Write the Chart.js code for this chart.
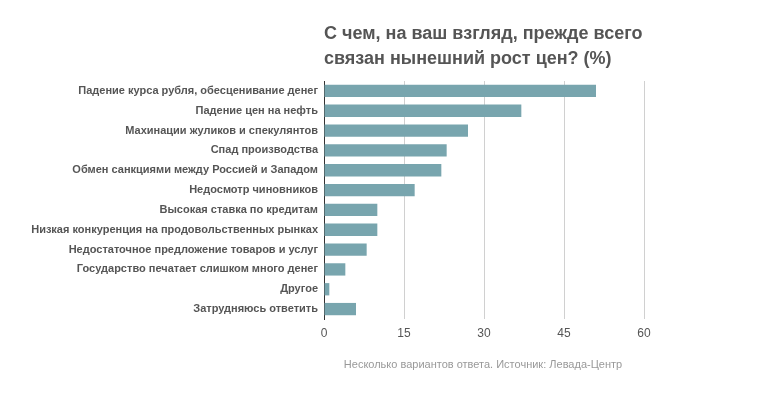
<!DOCTYPE html>
<html>
<head>
<meta charset="utf-8">
<script src="https://cdn.jsdelivr.net/npm/chart.js@4"></script>
<style>
  body { margin: 0; background: #fff; font-family: Arial, "Liberation Sans", sans-serif; }
  #wrap { position: relative; width: 776px; height: 398px; }
  #title { position: absolute; left: 324px; top: 21px; font-size: 18px; font-weight: bold; color: #555; line-height: 25px; }
  #note { position: absolute; left: 0; width: 966px; top: 358px; text-align: center; font-size: 11px; color: #999; }
  canvas { position: absolute; left: 0; top: 0; }
</style>
</head>
<body>
<div id="wrap">
  <canvas id="c" width="776" height="398"></canvas>
  <div id="title">С чем, на ваш взгляд, прежде всего<br>связан нынешний рост цен? (%)</div>
  <div id="note">Несколько вариантов ответа. Источник: Левада-Центр</div>
</div>
<script>
// categories and values (%)
const labels = [
  "Падение курса рубля, обесценивание денег",
  "Падение цен на нефть",
  "Махинации жуликов и спекулянтов",
  "Спад производства",
  "Обмен санкциями между Россией и Западом",
  "Недосмотр чиновников",
  "Высокая ставка по кредитам",
  "Низкая конкуренция на продовольственных рынках",
  "Недостаточное предложение товаров и услуг",
  "Государство печатает слишком много денег",
  "Другое",
  "Затрудняюсь ответить"
];
const values = [51, 37, 27, 23, 22, 17, 10, 10, 8, 4, 1, 6];
const xTicks = [0, 15, 30, 45, 60];

new Chart(document.getElementById('c'), {
  type: 'bar',
  data: {
    labels: labels,
    datasets: [{ data: values, backgroundColor: '#78a5ae', categoryPercentage: 1, barPercentage: 0.62 }]
  },
  options: {
    indexAxis: 'y',
    responsive: false,
    animation: false,
    layout: { padding: { top: 81, right: 132, bottom: 0, left: 0 } },
    plugins: { legend: { display: false }, tooltip: { enabled: false } },
    scales: {
      x: {
        min: 0, max: 60,
        afterBuildTicks: s => { s.ticks = xTicks.map(v => ({ value: v })); },
        afterFit: s => { s.height = 79; },
        border: { display: false },
        grid: { color: '#d0d0d0', drawTicks: false },
        ticks: { padding: 7, color: '#555', font: { family: 'Arial, "Liberation Sans"', size: 12 } }
      },
      y: {
        afterFit: s => { s.width = 324; },
        border: { color: '#333', width: 1 },
        grid: { display: false, drawTicks: false },
        ticks: { padding: 6, color: '#555', font: { family: 'Arial, "Liberation Sans"', size: 11, weight: 'bold' } }
      }
    }
  }
});
</script>
</body>
</html>
